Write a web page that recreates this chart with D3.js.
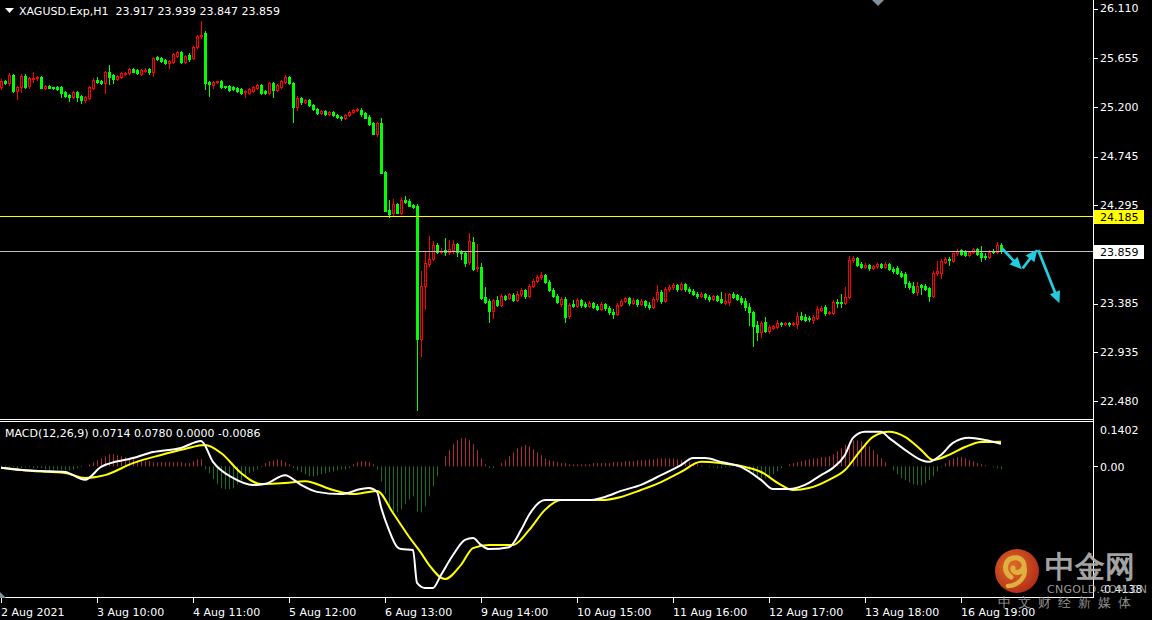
<!DOCTYPE html>
<html><head><meta charset="utf-8">
<script src="https://cdn.jsdelivr.net/npm/d3@7"></script>
<style>html,body{margin:0;padding:0;background:#000;overflow:hidden}text{font-family:"DejaVu Sans",sans-serif}</style>
</head><body>
<svg id="c" width="1152" height="620"></svg>
<script>
// ---------- DATA ----------
const opens = [
25.379,25.435,25.416,25.490,25.342,25.379,25.481,25.388,25.453,25.462,
25.472,25.370,25.388,25.379,25.379,25.379,25.333,25.305,25.287,25.333,
25.296,25.259,25.277,25.370,25.444,25.435,25.416,25.518,25.490,25.453,
25.472,25.499,25.509,25.546,25.536,25.499,25.527,25.546,25.518,25.657,
25.647,25.629,25.601,25.610,25.666,25.703,25.610,25.675,25.647,25.749,
25.851,25.879,25.425,25.398,25.425,25.435,25.388,25.388,25.379,25.370,
25.361,25.333,25.324,25.342,25.370,25.398,25.342,25.324,25.416,25.351,
25.379,25.425,25.472,25.416,25.194,25.277,25.241,25.259,25.213,25.176,
25.139,25.157,25.130,25.148,25.120,25.102,25.093,25.120,25.148,25.167,
25.167,25.139,25.102,25.046,24.945,25.046,24.593,24.242,24.214,24.297,
24.214,24.334,24.325,24.288,24.279,23.048,23.538,23.742,23.788,23.918,
23.853,23.871,23.853,23.871,23.927,23.862,23.844,23.760,23.945,23.705,
23.714,23.437,23.400,23.307,23.409,23.363,23.446,23.427,23.455,23.409,
23.464,23.501,23.446,23.538,23.585,23.622,23.640,23.575,23.501,23.446,
23.372,23.418,23.261,23.372,23.353,23.409,23.372,23.353,23.381,23.353,
23.326,23.372,23.335,23.298,23.279,23.363,23.400,23.427,23.381,23.409,
23.372,23.400,23.363,23.344,23.418,23.483,23.400,23.511,23.529,23.548,
23.511,23.557,23.511,23.492,23.464,23.446,23.464,23.437,23.418,23.446,
23.418,23.381,23.390,23.464,23.455,23.427,23.400,23.344,23.298,23.178,
23.113,23.205,23.122,23.150,23.159,23.196,23.187,23.196,23.187,23.187,
23.261,23.252,23.242,23.224,23.242,23.316,23.344,23.289,23.289,23.390,
23.390,23.381,23.437,23.779,23.797,23.742,23.714,23.733,23.705,23.723,
23.742,23.714,23.742,23.696,23.705,23.659,23.649,23.566,23.538,23.483,
23.548,23.538,23.520,23.446,23.659,23.659,23.760,23.788,23.770,23.844,
23.871,23.853,23.825,23.853,23.881,23.844,23.816,23.807,23.862,23.853,
23.917];
const highs = [
25.453,25.444,25.509,25.499,25.388,25.499,25.499,25.472,25.518,25.481,
25.481,25.398,25.398,25.379,25.388,25.388,25.342,25.314,25.342,25.342,
25.305,25.296,25.388,25.462,25.472,25.444,25.527,25.583,25.499,25.490,
25.518,25.518,25.555,25.555,25.546,25.546,25.555,25.555,25.657,25.666,
25.657,25.638,25.629,25.694,25.712,25.712,25.675,25.694,25.758,25.860,
25.990,25.897,25.435,25.435,25.435,25.444,25.388,25.398,25.388,25.379,
25.370,25.351,25.370,25.388,25.407,25.407,25.351,25.425,25.425,25.407,
25.444,25.490,25.481,25.425,25.296,25.287,25.268,25.268,25.222,25.185,
25.167,25.167,25.157,25.157,25.130,25.111,25.130,25.157,25.176,25.185,
25.185,25.148,25.120,25.056,25.056,25.093,24.602,24.334,24.343,24.306,
24.362,24.371,24.343,24.297,24.297,23.677,23.853,24.001,23.955,23.936,
23.890,23.982,23.964,23.964,23.936,23.871,23.853,24.029,23.992,23.927,
23.751,23.529,23.418,23.418,23.446,23.464,23.455,23.474,23.474,23.492,
23.520,23.511,23.557,23.603,23.640,23.668,23.649,23.594,23.520,23.464,
23.437,23.437,23.381,23.409,23.427,23.418,23.390,23.400,23.390,23.372,
23.390,23.381,23.353,23.326,23.381,23.418,23.437,23.437,23.427,23.418,
23.418,23.409,23.390,23.437,23.548,23.501,23.529,23.548,23.566,23.557,
23.575,23.566,23.529,23.511,23.483,23.483,23.474,23.455,23.455,23.455,
23.483,23.474,23.474,23.483,23.464,23.446,23.427,23.381,23.307,23.215,
23.215,23.252,23.178,23.178,23.224,23.205,23.205,23.205,23.205,23.298,
23.298,23.279,23.261,23.270,23.353,23.353,23.363,23.307,23.409,23.418,
23.464,23.529,23.816,23.816,23.807,23.760,23.751,23.742,23.733,23.751,
23.751,23.760,23.751,23.714,23.723,23.677,23.668,23.585,23.575,23.575,
23.557,23.557,23.529,23.677,23.770,23.788,23.807,23.807,23.844,23.881,
23.881,23.871,23.862,23.890,23.890,23.908,23.844,23.871,23.881,23.945,
23.939];
const lows = [
25.361,25.407,25.398,25.333,25.268,25.333,25.370,25.370,25.425,25.444,
25.370,25.361,25.370,25.361,25.351,25.287,25.287,25.250,25.277,25.250,
25.231,25.241,25.268,25.361,25.416,25.407,25.324,25.407,25.416,25.444,
25.462,25.490,25.499,25.518,25.499,25.490,25.518,25.499,25.481,25.629,
25.610,25.592,25.555,25.601,25.657,25.601,25.601,25.620,25.638,25.740,
25.832,25.361,25.296,25.370,25.416,25.370,25.370,25.342,25.351,25.333,
25.314,25.287,25.314,25.333,25.361,25.314,25.314,25.314,25.287,25.342,
25.370,25.416,25.407,25.056,25.167,25.222,25.231,25.204,25.167,25.130,
25.130,25.120,25.120,25.111,25.093,25.074,25.083,25.111,25.139,25.157,
25.111,25.093,25.028,24.945,24.926,24.584,24.232,24.177,24.196,24.214,
24.205,24.306,24.279,24.260,22.391,22.891,23.326,23.723,23.779,23.844,
23.844,23.825,23.834,23.844,23.816,23.788,23.723,23.742,23.686,23.677,
23.418,23.381,23.205,23.242,23.353,23.353,23.409,23.418,23.400,23.400,
23.446,23.427,23.437,23.529,23.575,23.603,23.566,23.492,23.437,23.381,
23.353,23.205,23.242,23.344,23.344,23.344,23.344,23.344,23.335,23.316,
23.316,23.316,23.279,23.242,23.270,23.353,23.390,23.363,23.372,23.353,
23.363,23.344,23.326,23.335,23.400,23.381,23.390,23.492,23.511,23.492,
23.501,23.492,23.474,23.455,23.427,23.437,23.418,23.400,23.409,23.400,
23.381,23.372,23.363,23.427,23.409,23.372,23.316,23.178,22.983,23.039,
23.067,23.113,23.104,23.141,23.150,23.168,23.178,23.168,23.178,23.150,
23.224,23.215,23.215,23.196,23.233,23.307,23.270,23.279,23.279,23.344,
23.344,23.372,23.427,23.760,23.723,23.705,23.705,23.686,23.696,23.705,
23.705,23.705,23.686,23.659,23.649,23.622,23.529,23.511,23.474,23.455,
23.464,23.501,23.400,23.437,23.640,23.612,23.751,23.733,23.760,23.825,
23.825,23.816,23.816,23.844,23.825,23.770,23.788,23.797,23.844,23.844,
23.847];
const closes = [
25.435,25.416,25.490,25.342,25.379,25.481,25.379,25.462,25.462,25.472,
25.370,25.388,25.370,25.370,25.361,25.324,25.296,25.287,25.333,25.287,
25.259,25.287,25.379,25.444,25.425,25.416,25.518,25.472,25.453,25.481,
25.509,25.509,25.546,25.518,25.509,25.536,25.536,25.518,25.647,25.638,
25.620,25.601,25.620,25.684,25.703,25.610,25.666,25.638,25.749,25.851,
25.860,25.416,25.407,25.425,25.435,25.379,25.379,25.351,25.361,25.342,
25.324,25.342,25.361,25.379,25.398,25.324,25.324,25.416,25.351,25.398,
25.435,25.472,25.416,25.194,25.277,25.241,25.259,25.213,25.176,25.139,
25.157,25.130,25.148,25.120,25.102,25.093,25.120,25.148,25.167,25.176,
25.130,25.093,25.037,24.945,25.046,24.584,24.232,24.205,24.297,24.214,
24.334,24.316,24.279,24.269,23.048,23.538,23.751,23.788,23.918,23.853,
23.862,23.853,23.881,23.927,23.853,23.844,23.751,23.955,23.696,23.714,
23.427,23.390,23.307,23.409,23.363,23.446,23.418,23.464,23.409,23.464,
23.501,23.446,23.538,23.585,23.622,23.640,23.575,23.501,23.446,23.390,
23.418,23.252,23.363,23.353,23.409,23.363,23.353,23.381,23.344,23.326,
23.372,23.335,23.298,23.279,23.363,23.400,23.427,23.381,23.409,23.372,
23.400,23.363,23.344,23.418,23.483,23.400,23.511,23.529,23.548,23.511,
23.557,23.511,23.492,23.464,23.446,23.464,23.437,23.418,23.446,23.409,
23.390,23.400,23.464,23.437,23.418,23.390,23.344,23.298,23.168,23.113,
23.196,23.122,23.159,23.168,23.196,23.187,23.196,23.187,23.196,23.261,
23.233,23.224,23.233,23.252,23.326,23.335,23.289,23.298,23.390,23.381,
23.381,23.437,23.779,23.797,23.733,23.714,23.733,23.705,23.723,23.742,
23.714,23.742,23.696,23.677,23.659,23.631,23.566,23.529,23.483,23.538,
23.529,23.511,23.446,23.659,23.677,23.770,23.788,23.779,23.844,23.862,
23.834,23.825,23.853,23.881,23.834,23.807,23.807,23.853,23.853,23.918,
23.859];

const timeTickBars = [0,24,48,72,96,120,144,168,192,216,240];
const timeLabels = ["2 Aug 2021","3 Aug 10:00","4 Aug 11:00","5 Aug 12:00","6 Aug 13:00","9 Aug 14:00","10 Aug 15:00","11 Aug 16:00","12 Aug 17:00","13 Aug 18:00","16 Aug 19:00"];
const priceTicks = [26.110,25.655,25.200,24.745,24.295,23.385,22.935,22.480];
const levelPrice = 24.185;
const bidPrice = 23.859;

// MACD main (white) and signal (yellow) read at these bar indices
const difIdx = [0,5,10,16,21,25,33,38,45,50,53,58,63,66,71,75,79,85,90,92,94,95,97,99,100,103,104,106,108,110,113,116,118,120,122,127,130,132,136,142,147,151,155,160,165,170,173,176,180,185,190,193,197,201,205,208,211,213,216,220,222,226,230,232,235,238,242,246,250];
const difVals = [-0.005,-0.012,-0.015,-0.018,-0.043,-0.002,0.026,0.045,0.058,0.080,0.014,-0.037,-0.059,-0.056,-0.028,-0.059,-0.081,-0.088,-0.072,-0.069,-0.081,-0.129,-0.202,-0.255,-0.262,-0.265,-0.369,-0.385,-0.385,-0.344,-0.281,-0.233,-0.227,-0.249,-0.262,-0.256,-0.202,-0.154,-0.107,-0.107,-0.107,-0.097,-0.078,-0.059,-0.028,0.004,0.026,0.026,0.014,-0.002,-0.043,-0.072,-0.072,-0.059,-0.028,-0.005,0.036,0.090,0.109,0.109,0.090,0.052,0.020,0.014,0.036,0.074,0.090,0.083,0.0714];
const deaIdx = [0,8,16,21,26,33,40,46,51,55,60,65,71,76,83,88,94,98,102,105,107,111,115,118,122,128,132,136,140,150,155,160,165,170,175,180,185,190,195,198,202,207,211,215,218,222,226,230,233,237,241,245,250];
const deaVals = [-0.005,-0.015,-0.021,-0.037,-0.028,0.010,0.036,0.055,0.067,0.042,-0.021,-0.056,-0.053,-0.047,-0.075,-0.088,-0.078,-0.148,-0.223,-0.274,-0.312,-0.357,-0.312,-0.259,-0.249,-0.249,-0.202,-0.138,-0.107,-0.107,-0.097,-0.075,-0.050,-0.018,0.014,0.010,0.001,-0.018,-0.059,-0.075,-0.069,-0.043,-0.012,0.052,0.093,0.109,0.093,0.052,0.020,0.036,0.061,0.077,0.078];
// MACD histogram, one value per bar
const histVals = [
-0.003,-0.003,-0.003,-0.003,-0.006,-0.006,-0.003,-0.003,-0.006,-0.006,
-0.006,-0.010,-0.010,-0.010,-0.010,-0.010,-0.013,-0.013,-0.010,-0.006,
-0.003,0,
0.006,0.013,0.019,0.025,0.032,0.038,0.038,0.035,0.032,0.029,0.025,0.022,
0.019,0.016,0.016,0.016,0.013,0.013,0.013,0.013,0.013,0.013,0.013,0.013,
0.010,0.010,0.016,0.022,0.022,
-0.010,-0.022,-0.041,-0.057,-0.070,-0.073,-0.073,-0.070,-0.057,-0.044,-0.032,-0.022,-0.016,-0.010,-0.003,
0.010,0.016,0.019,0.022,0.019,0.013,0.006,
-0.006,-0.013,
-0.019,-0.025,-0.032,-0.032,-0.029,-0.025,-0.022,-0.019,-0.016,-0.013,-0.010,-0.010,-0.006,
0.006,0.013,0.016,0.016,0.013,0.006,
-0.010,
-0.048,-0.089,-0.127,-0.146,-0.146,-0.136,-0.120,-0.105,-0.095,
-0.143,-0.146,-0.127,-0.095,-0.063,-0.032,0,
0.032,0.051,0.070,0.082,0.089,0.089,0.082,0.070,0.051,0.025,0.006,-0.006,-0.006,0,0.010,0.019,0.032,0.044,0.057,0.063,0.067,0.063,0.054,0.044,0.035,
0.025,0.019,0.016,0.013,0.010,0.010,0.006,0.006,0.006,0.006,
0.006,0.006,0.010,0.010,0.010,0.010,0.010,0.013,0.013,0.013,0.016,0.016,0.016,0.019,0.019,
0.019,0.022,0.022,0.025,0.025,0.025,0.025,0.025,0.022,0.019,0.016,0.013,0.010,0.006,0.003,
0,-0.003,-0.003,-0.006,-0.006,-0.003,-0.003,0,0,-0.003,
-0.006,-0.016,-0.025,-0.032,-0.038,-0.038,-0.032,-0.025,-0.016,-0.006,0,
0.006,0.010,0.013,0.016,0.019,0.022,0.025,0.025,0.029,0.029,0.032,
0.038,0.048,0.057,0.067,0.076,0.082,0.082,0.079,0.073,0.063,0.051,0.038,0.025,0.013,0,-0.013,-0.025,-0.038,
-0.044,-0.051,-0.057,-0.060,-0.060,-0.054,-0.044,-0.032,-0.016,-0.003,
0.010,0.019,0.025,0.029,0.029,0.025,0.019,0.016,0.010,0.006,0.003,0,-0.003,-0.006,-0.0086];
const macdLabel = "MACD(12,26,9) 0.0714 0.0780 0.0000 -0.0086";
const macdMax = 0.1402, macdMin = -0.4138;

// Analyst arrows, in (bar index, price)
const arrowFrom = [[250.2,23.887],[255.4,23.702],[259.3,23.871]];
const arrowTo   = [[255.2,23.693],[259.1,23.878],[264.6,23.378]];

// ---------- CHART ----------
const svg = d3.select('#c');
const plotR = 1093;
const x = d3.scaleLinear().domain([0,250]).range([1,1001]);
const y = d3.scaleLinear().domain([26.184,22.308]).range([0,419]);
const ym = d3.scaleLinear().domain([macdMax,macdMin]).range([422,597]);

svg.append('rect').attr('width',1152).attr('height',620).attr('fill','#000');
const defs = svg.append('defs');
defs.append('clipPath').attr('id','clipMain').append('rect').attr('x',0).attr('y',0).attr('width',plotR).attr('height',419);
defs.append('clipPath').attr('id','clipMacd').append('rect').attr('x',0).attr('y',422).attr('width',plotR).attr('height',175);
const rg = defs.append('radialGradient').attr('id','logoG').attr('cx','40%').attr('cy','40%').attr('r','65%');
rg.append('stop').attr('offset','0%').attr('stop-color','#f47a2a');
rg.append('stop').attr('offset','100%').attr('stop-color','#c8301c');

// Candles
const idx = d3.range(opens.length);
const gC = svg.append('g').attr('clip-path','url(#clipMain)');
const bull = i => closes[i] >= opens[i];
const col = i => bull(i) ? '#ff0000' : '#00ff00';
gC.selectAll('rect.wick').data(idx).join('rect').attr('class','wick')
  .attr('x', i => Math.round(x(i)))
  .attr('y', i => Math.round(y(highs[i])))
  .attr('width', 1)
  .attr('height', i => Math.max(1, Math.round(y(lows[i])) - Math.round(y(highs[i])) + 1))
  .attr('fill', col);
idx.forEach(i => {
  const cx = Math.round(x(i));
  const yo = Math.round(y(opens[i])), yc = Math.round(y(closes[i]));
  const t = Math.min(yo,yc), b = Math.max(yo,yc);
  if (b - t < 1) {
    gC.append('rect').attr('x',cx-1).attr('y',t).attr('width',3).attr('height',1).attr('fill',col(i));
  } else if (bull(i)) {
    gC.append('rect').attr('x',cx-0.5).attr('y',t+0.5).attr('width',2).attr('height',b-t)
      .attr('fill','#000').attr('stroke',col(i)).attr('stroke-width',1);
  } else {
    gC.append('rect').attr('x',cx-1).attr('y',t).attr('width',3).attr('height',b-t+1).attr('fill',col(i));
  }
});

// Horizontal lines
gC.append('line').attr('x1',0).attr('x2',plotR).attr('y1',Math.round(y(levelPrice))+0.5).attr('y2',Math.round(y(levelPrice))+0.5)
  .attr('stroke','#ffff00').attr('stroke-width',1);
gC.append('line').attr('x1',0).attr('x2',plotR).attr('y1',Math.round(y(bidPrice))+0.5).attr('y2',Math.round(y(bidPrice))+0.5)
  .attr('stroke','#c0c0c0').attr('stroke-width',1);

// Arrows
function arrowPts(x1,y1,x2,y2){
  const dx=x2-x1, dy=y2-y1, L=Math.hypot(dx,dy), ux=dx/L, uy=dy/L, nx=-uy, ny=ux;
  const hl=12, hw=5.5, sw=1.4, bx=x2-ux*hl, by=y2-uy*hl;
  return [[x1+nx*sw,y1+ny*sw],[bx+nx*sw,by+ny*sw],[bx+nx*hw,by+ny*hw],[x2,y2],[bx-nx*hw,by-ny*hw],[bx-nx*sw,by-ny*sw],[x1-nx*sw,y1-ny*sw]];
}
svg.append('g').selectAll('polygon').data(arrowFrom.map((f,k)=>[f,arrowTo[k]])).join('polygon')
  .attr('points', d => arrowPts(x(d[0][0]),y(d[0][1]),x(d[1][0]),y(d[1][1])).map(p=>p.join(',')).join(' '))
  .attr('fill','#22ccdd');

// MACD
const gM = svg.append('g').attr('clip-path','url(#clipMacd)');
const y0 = ym(0);
gM.selectAll('rect.h').data(idx).join('rect').attr('class','h')
  .attr('x', i => Math.round(x(i)))
  .attr('y', i => Math.min(y0, ym(histVals[i])))
  .attr('width',1)
  .attr('height', i => Math.abs(ym(histVals[i]) - y0))
  .attr('fill', i => histVals[i] >= 0 ? '#b02a3a' : '#1f6e1f');
const line = d3.line().x(d=>x(d[0])).y(d=>ym(d[1])).curve(d3.curveMonotoneX);
gM.append('path').datum(deaIdx.map((b,k)=>[b,deaVals[k]])).attr('d',line).attr('fill','none').attr('stroke','#ffff00').attr('stroke-width',2);
gM.append('path').datum(difIdx.map((b,k)=>[b,difVals[k]])).attr('d',line).attr('fill','none').attr('stroke','#ffffff').attr('stroke-width',2);

// Borders
const bd = svg.append('g').attr('stroke','#ffffff').attr('stroke-width',1);
bd.append('line').attr('x1',plotR+0.5).attr('x2',plotR+0.5).attr('y1',0).attr('y2',598);
bd.append('line').attr('x1',0).attr('x2',plotR+1).attr('y1',419.5).attr('y2',419.5);
bd.append('line').attr('x1',0).attr('x2',plotR+1).attr('y1',421.5).attr('y2',421.5);
bd.append('line').attr('x1',0).attr('x2',plotR+1).attr('y1',597.5).attr('y2',597.5);

// Price axis
const pa = svg.append('g');
pa.selectAll('line').data(priceTicks).join('line')
  .attr('x1',plotR+1).attr('x2',plotR+5).attr('y1',d=>Math.round(y(d))+1.5).attr('y2',d=>Math.round(y(d))+1.5)
  .attr('stroke','#fff');
pa.selectAll('text').data(priceTicks).join('text')
  .attr('x',1100).attr('y',d=>y(d)+4.5).attr('fill','#fff').attr('font-size',11)
  .text(d=>d.toFixed(3));
// level tags
function tag(price, bg){
  const yy = y(price);
  svg.append('rect').attr('x',plotR+1).attr('y',Math.round(yy)-6).attr('width',50).attr('height',14).attr('fill',bg);
  svg.append('text').attr('x',1100).attr('y',yy+4.5).attr('fill','#000').attr('font-size',11).text(price.toFixed(3));
}
tag(levelPrice,'#ffff00');
tag(bidPrice,'#ffffff');

// MACD axis
const ma = svg.append('g');
ma.append('line').attr('x1',plotR+1).attr('x2',plotR+5).attr('y1',Math.round(ym(0))+0.5).attr('y2',Math.round(ym(0))+0.5).attr('stroke','#fff');
ma.append('text').attr('x',1100).attr('y',ym(macdMax)+12).attr('fill','#fff').attr('font-size',11).text(macdMax.toFixed(4));
ma.append('text').attr('x',1100).attr('y',ym(0)+5).attr('fill','#fff').attr('font-size',11).text((0).toFixed(2));
ma.append('text').attr('x',1100).attr('y',ym(macdMin)-4).attr('fill','#fff').attr('font-size',11).text(macdMin.toFixed(4));

// Time axis
const ta = svg.append('g');
ta.selectAll('line').data(timeTickBars).join('line')
  .attr('x1',d=>Math.round(x(d))+0.5).attr('x2',d=>Math.round(x(d))+0.5).attr('y1',598).attr('y2',603).attr('stroke','#fff');
ta.selectAll('text').data(timeTickBars).join('text')
  .attr('x',d=>Math.round(x(d))).attr('y',616).attr('fill','#fff').attr('font-size',11)
  .text((d,k)=>timeLabels[k]);

// Titles
svg.append('path').attr('d','M5,8 L14,8 L9.5,13 Z').attr('fill','#fff');
svg.append('text').attr('x',19).attr('y',15).attr('fill','#fff').attr('font-size',11).attr('xml:space','preserve')
  .text('XAGUSD.Exp,H1  23.917 23.939 23.847 23.859');
svg.append('text').attr('x',5).attr('y',437).attr('fill','#fff').attr('font-size',11).text(macdLabel);

// small markers
svg.append('path').attr('d','M872,0 L884,0 L878,6 Z').attr('fill','#8090a0');
svg.append('path').attr('d','M0,592 L0,598 L6,598 Z').attr('fill','#8090a0');

// Watermark
const wm = svg.append('g').attr('opacity',0.9);
wm.append('circle').attr('cx',1017).attr('cy',571).attr('r',22).attr('fill','url(#logoG)');
wm.append('path').attr('d','M1011,577 C1003,572 1004,560 1013,558 C1022,556 1027,565 1022,570 C1019,574 1012,573 1013,568')
  .attr('fill','none').attr('stroke','#f8c448').attr('stroke-width',5).attr('stroke-linecap','round');
wm.append('path').attr('d','M1024,566 C1027,576 1020,585 1008,586')
  .attr('fill','none').attr('stroke','#f8c448').attr('stroke-width',4.5).attr('stroke-linecap','round');
wm.append('text').attr('x',1045).attr('y',577).attr('font-size',30).attr('font-weight','bold')
  .attr('font-family','"Noto Sans CJK SC"').attr('fill','#b4b4b4').text('中金网');
wm.append('text').attr('x',1047).attr('y',593).attr('font-size',11).attr('font-family','"Liberation Sans",Arial')
  .attr('fill','#a8a8a8').attr('letter-spacing',0.3).text('CNGOLD.COM.CN');
wm.append('text').attr('x',998).attr('y',607).attr('font-size',13).attr('font-family','"Noto Sans CJK SC"')
  .attr('fill','#a0a0a0').attr('letter-spacing',7).text('中文财经新媒体');
</script>
</body></html>
